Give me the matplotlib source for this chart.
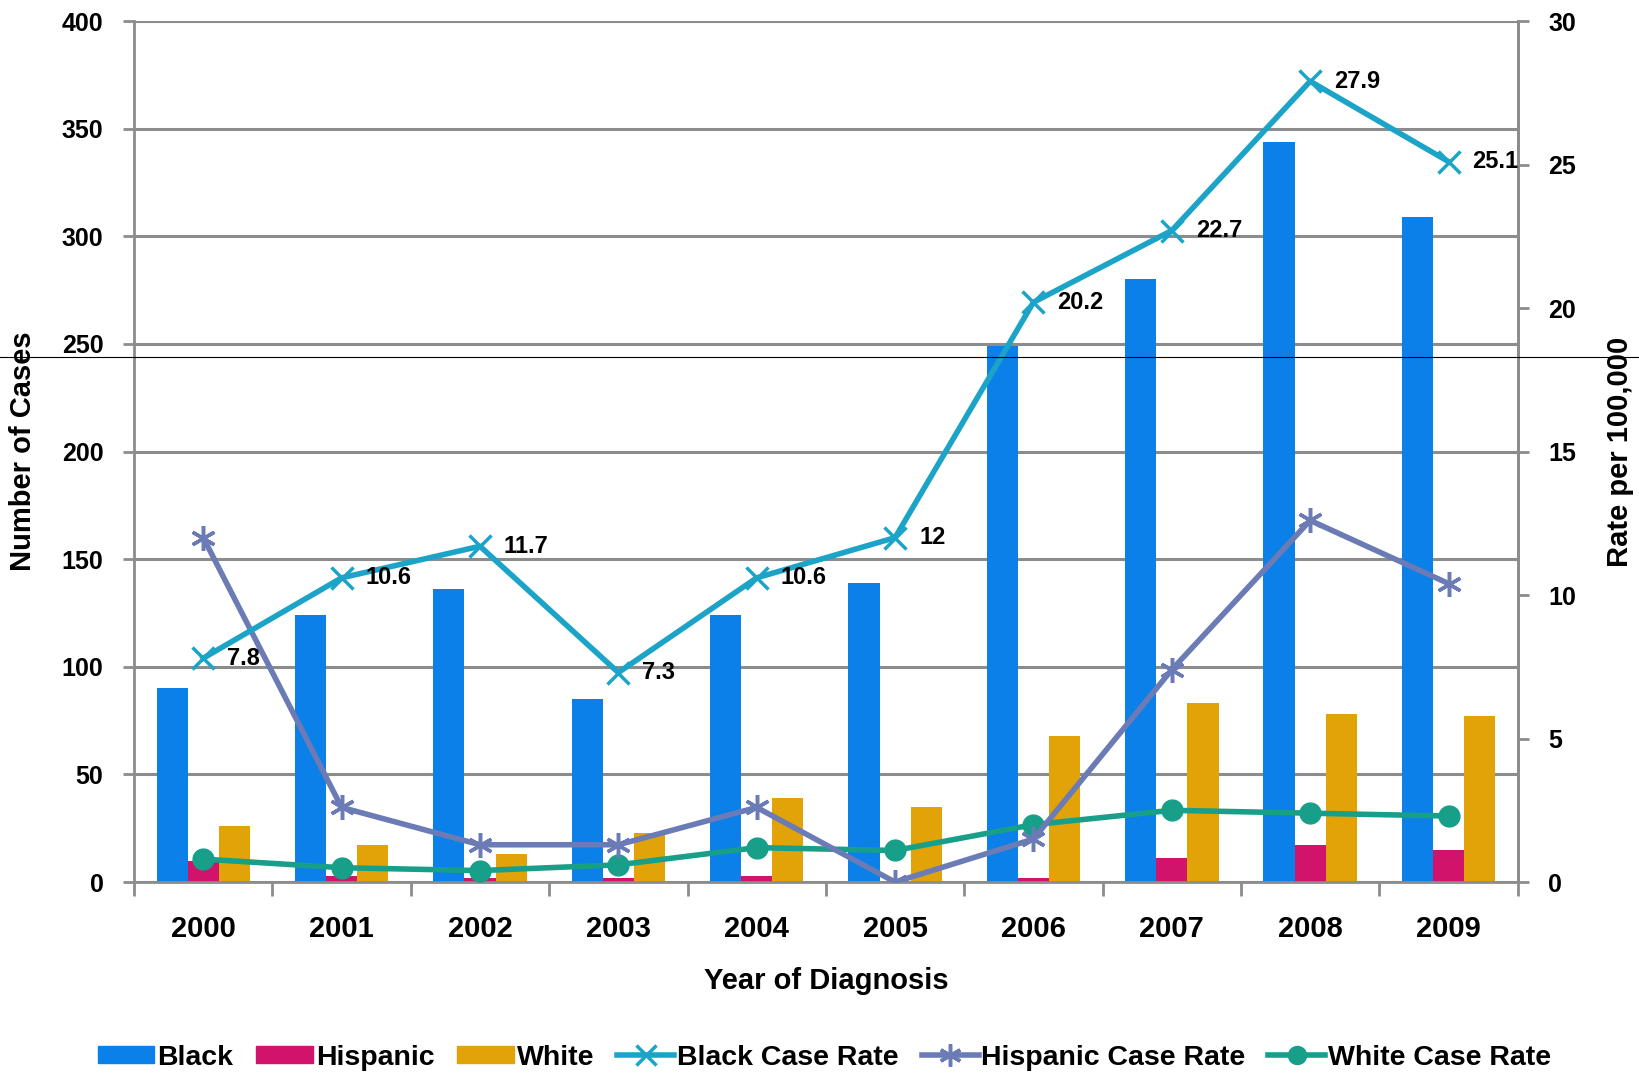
import numpy as np
import matplotlib
matplotlib.use("Agg")
import matplotlib.pyplot as plt
from matplotlib.lines import Line2D

plt.rcParams.update({
    "font.family": ["Liberation Sans", "DejaVu Sans"],
    "font.weight": "bold",
    "axes.labelweight": "bold",
})

years = ["2000", "2001", "2002", "2003", "2004", "2005", "2006", "2007", "2008", "2009"]

# case counts (left axis)
black_cases = [90, 124, 136, 85, 124, 139, 249, 280, 344, 309]
hispanic_cases = [10, 3, 2, 2, 3, 0, 2, 11, 17, 15]
white_cases = [26, 17, 13, 23, 39, 35, 68, 83, 78, 77]

# rates per 100,000 (right axis)
black_rate = [7.8, 10.6, 11.7, 7.3, 10.6, 12, 20.2, 22.7, 27.9, 25.1]
hispanic_rate = [12.0, 2.6, 1.3, 1.3, 2.6, 0.0, 1.5, 7.4, 12.6, 10.4]
white_rate = [0.8, 0.5, 0.4, 0.6, 1.2, 1.1, 2.0, 2.5, 2.4, 2.3]

C_BLACK = "#0A80E8"
C_HISP = "#D1136C"
C_WHITE = "#E1A308"
C_BRATE = "#1CA4C8"
C_HRATE = "#6B7BB5"
C_WRATE = "#179F89"
GRID = "#8C8C8C"

fig = plt.figure(figsize=(16.39, 10.77), dpi=100)
ax = fig.add_axes([0.0818, 0.181, 0.8442, 0.7995])
x = np.arange(len(years))
w = 0.225

ax.bar(x - w, black_cases, w, color=C_BLACK, zorder=2)
ax.bar(x, hispanic_cases, w, color=C_HISP, zorder=2)
ax.bar(x + w, white_cases, w, color=C_WHITE, zorder=2)

ax.set_xlim(-0.5, len(years) - 0.5)
ax.set_ylim(0, 400)
ax.set_yticks(range(0, 401, 50))
ax.set_xticks(x)
ax.set_xticklabels(years)
ax.set_xticks(np.arange(-0.5, len(years)), minor=True)
ax.tick_params(axis="x", which="major", length=0, pad=24, labelsize=21)
ax.tick_params(axis="x", which="minor", length=10, width=2, color=GRID, direction="out")
ax.tick_params(axis="y", length=8, width=2, color=GRID, direction="out", pad=14, labelsize=18)
ax.grid(True, axis="y", color=GRID, lw=2.2, zorder=0)
ax.set_axisbelow(True)
ax.spines["top"].set_visible(False)
for s in ["left", "bottom", "right"]:
    ax.spines[s].set_color(GRID)
    ax.spines[s].set_linewidth(2)

ax.set_xlabel("Year of Diagnosis", fontsize=21, labelpad=17)
ax.set_ylabel("Number of Cases", fontsize=21)
ax.yaxis.set_label_coords(-0.07, 0.5)

ax2 = ax.twinx()
ax2.set_ylim(0, 30)
ax2.set_yticks(range(0, 31, 5))
ax2.tick_params(axis="y", length=8, width=2, color=GRID, direction="out", pad=14, labelsize=18)
for s in ["top", "left", "bottom"]:
    ax2.spines[s].set_visible(False)
ax2.spines["right"].set_color(GRID)
ax2.spines["right"].set_linewidth(2)
ax2.set_ylabel("Rate per 100,000", fontsize=21, rotation=90)
ax2.yaxis.set_label_coords(1.064, 0.5)

ax2.plot(x, white_rate, color=C_WRATE, lw=4, marker="o", ms=15, zorder=3)
ax2.plot(x, hispanic_rate, color=C_HRATE, lw=4, marker=(6, 2, 0), ms=18,
         mew=2.5, zorder=4)
ax2.plot(x, black_rate, color=C_BRATE, lw=4, marker="x", ms=16, mew=2.5, zorder=5)

for xi, v in zip(x, black_rate):
    ax2.annotate(f"{v:g}", (xi, v), xytext=(24, 0), textcoords="offset pixels",
                 ha="left", va="center", fontsize=17, zorder=6)

# thin stray line across the original image
fig.add_artist(Line2D([0, 1], [0.6685, 0.6685], color="black", lw=0.8,
                      transform=fig.transFigure))

handles = [
    plt.Rectangle((0, 0), 1, 1, color=C_BLACK),
    plt.Rectangle((0, 0), 1, 1, color=C_HISP),
    plt.Rectangle((0, 0), 1, 1, color=C_WHITE),
    Line2D([], [], color=C_BRATE, lw=4, marker="x", ms=14, mew=2.5),
    Line2D([], [], color=C_HRATE, lw=4, marker=(6, 2, 0), ms=16, mew=2.5),
    Line2D([], [], color=C_WRATE, lw=4, marker="o", ms=13),
]
labels = ["Black", "Hispanic", "White", "Black Case Rate", "Hispanic Case Rate",
          "White Case Rate"]
fig.legend(handles, labels, loc="center", bbox_to_anchor=(0.503, 0.018), ncol=6,
           frameon=False, fontsize=20.5, handlelength=2.0, handleheight=0.55,
           handletextpad=0.1, columnspacing=0.8)

fig.savefig("out.png", dpi=100)
